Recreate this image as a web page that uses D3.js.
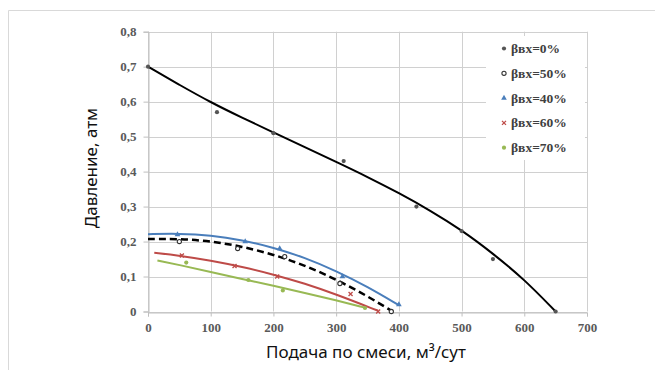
<!DOCTYPE html>
<html><head><meta charset="utf-8">
<script src="https://cdn.jsdelivr.net/npm/d3@7"></script>
<style>body{margin:0;background:#fff}</style>
</head><body>
<svg id="c" width="663" height="370"></svg>
<script>
// ---- data ----
const xTicks = [0,100,200,300,400,500,600,700];
const yTicks = [0,0.1,0.2,0.3,0.4,0.5,0.6,0.7,0.8];
const yTickLabels = ["0","0,1","0,2","0,3","0,4","0,5","0,6","0,7","0,8"];

const s0x = [0,110,200,312,428,500,550,650];
const s0y = [0.70,0.57,0.51,0.43,0.30,0.23,0.15,0.0];
const t0x = [0,50,100,150,200,250,300,350,400,450,500,550,600,650];
const t0y = [0.700,0.648,0.598,0.554,0.512,0.470,0.428,0.385,0.339,0.289,0.233,0.166,0.092,0.0];

const s50x = [50,143,218,306,388];
const s50y = [0.20,0.18,0.157,0.08,0.0];
const t50x = [0,50,100,150,200,250,300,350,390];
const t50y = [0.207,0.208,0.201,0.186,0.163,0.132,0.092,0.044,0.0];

const s40x = [47,155,210,310,400];
const s40y = [0.22,0.20,0.18,0.10,0.02];
const t40x = [0,50,100,150,200,250,300,350,400];
const t40y = [0.221,0.223,0.218,0.204,0.183,0.154,0.116,0.071,0.018];

const s60x = [54,138,206,323,367];
const s60y = [0.16,0.13,0.10,0.05,0.0];
const t60x = [10,50,100,150,200,250,300,367];
const t60y = [0.168,0.160,0.146,0.128,0.106,0.080,0.049,0.002];

const s70x = [61,160,215,346];
const s70y = [0.14,0.09,0.06,0.01];
const t70x = [15,50,100,150,200,250,300,346];
const t70y = [0.146,0.133,0.113,0.093,0.074,0.053,0.032,0.011];

const legendLabels = ["βвх=0%","βвх=50%","βвх=40%","βвх=60%","βвх=70%"];

// ---- drawing ----
const svg = d3.select("#c");
const x = d3.scaleLinear().domain([0,700]).range([148,587]);
const y = d3.scaleLinear().domain([0,0.8]).range([311.5,31.7]);
const SERIF = "Liberation Serif";

// outer frame
svg.append("path").attr("d","M8.5,370 V10.5 H655").attr("fill","none").attr("stroke","#d9d9d9").attr("stroke-width",1);

// grid
const g = svg.append("g");
g.selectAll("line.vx").data(xTicks).join("line")
  .attr("x1",d=>Math.round(x(d))+0.5).attr("x2",d=>Math.round(x(d))+0.5)
  .attr("y1",y(0.8)).attr("y2",y(0)).attr("stroke","#d0d0d0");
g.selectAll("line.hy").data(yTicks).join("line")
  .attr("y1",d=>Math.round(y(d))+0.5).attr("y2",d=>Math.round(y(d))+0.5)
  .attr("x1",x(0)).attr("x2",x(700)).attr("stroke","#d0d0d0");

// axes
const xAxis = d3.axisBottom(x).tickValues(xTicks).tickSize(4).tickPadding(6).tickFormat(d3.format("d"));
const ax = svg.append("g").attr("transform",`translate(0,${Math.round(y(0))+0.5})`).call(xAxis);
ax.attr("font-family",SERIF).attr("font-size",13);
ax.select(".domain").attr("stroke","#bfbfbf");
ax.selectAll(".tick line").attr("stroke","#bfbfbf");
ax.selectAll("text").attr("font-family",SERIF).attr("font-weight","bold").attr("font-size",13).attr("fill","#595959");

const yAxis = d3.axisLeft(y).tickValues(yTicks).tickSize(5).tickPadding(7).tickFormat((d,i)=>yTickLabels[i]);
const ay = svg.append("g").attr("transform",`translate(${Math.round(x(0))+0.5},0)`).call(yAxis);
ay.attr("font-family",SERIF).attr("font-size",13);
ay.select(".domain").attr("stroke","#bfbfbf");
ay.selectAll(".tick line").attr("stroke","#bfbfbf");
ay.selectAll("text").attr("font-family",SERIF).attr("font-weight","bold").attr("font-size",13).attr("fill","#595959");

// legend background
const lg = svg.append("g");
lg.append("rect").attr("x",486).attr("y",36).attr("width",99).attr("height",124).attr("fill","#fff");

// trend lines
const line = d3.line().x(d=>x(d[0])).y(d=>y(d[1])).curve(d3.curveBasis);
const zip = (a,b)=>a.map((v,i)=>[v,b[i]]);
const cols = {b:"#4a7ebb", r:"#be4b48", gr:"#98b954"};

svg.append("path").datum(zip(t70x,t70y)).attr("d",line).attr("fill","none").attr("stroke",cols.gr).attr("stroke-width",2);
svg.append("path").datum(zip(t60x,t60y)).attr("d",line).attr("fill","none").attr("stroke",cols.r).attr("stroke-width",2);
svg.append("path").datum(zip(t40x,t40y)).attr("d",line).attr("fill","none").attr("stroke",cols.b).attr("stroke-width",2);
svg.append("path").datum(zip(t50x,t50y)).attr("d",line).attr("fill","none").attr("stroke","#000").attr("stroke-width",2.5).attr("stroke-dasharray","7,4");
svg.append("path").datum(zip(t0x,t0y)).attr("d",line).attr("fill","none").attr("stroke","#000").attr("stroke-width",2);

// markers
function dots(xs,ys,kind,col,gg){
  const pts = zip(xs,ys);
  const sel = gg.selectAll(null).data(pts).join("g").attr("transform",d=>`translate(${x(d[0])},${y(d[1])})`);
  if(kind==="dot") sel.append("circle").attr("r",2.1).attr("fill",col);
  if(kind==="open") sel.append("circle").attr("r",2.1).attr("fill","#fff").attr("stroke","#333").attr("stroke-width",1.1);
  if(kind==="tri") sel.append("path").attr("d",d3.symbol(d3.symbolTriangle,14)).attr("fill",col);
  if(kind==="x") sel.append("path").attr("d","M-2,-2L2,2M-2,2L2,-2").attr("stroke",col).attr("stroke-width",1.3);
}
const mg = svg.append("g");
dots(s70x,s70y,"dot",cols.gr,mg);
dots(s60x,s60y,"x",cols.r,mg);
dots(s40x,s40y,"tri",cols.b,mg);
dots(s50x,s50y,"open",null,mg);
dots(s0x,s0y,"dot","#555",mg);

// legend
const kinds = [["dot","#555"],["open",null],["tri",cols.b],["x",cols.r],["dot",cols.gr]];
legendLabels.forEach((t,i)=>{
  const yy = 48.5 + i*24.8;
  const lgg = lg.append("g");
  dots([0],[0],kinds[i][0],kinds[i][1],lgg.append("g").attr("transform",`translate(${504-x(0)},${yy-y(0)})`));
  lg.append("text").attr("x",511).attr("y",yy+4.5).text(t)
    .attr("font-family",SERIF).attr("font-weight","bold").attr("font-size",13.5).attr("fill","#404040");
});

// titles
svg.append("text").attr("transform","translate(97,168) rotate(-90)").attr("text-anchor","middle")
  .attr("font-family","Noto Sans").attr("font-size",17).attr("fill","#111").text("Давление, атм");
svg.append("text").attr("x",366).attr("y",358).attr("text-anchor","middle")
  .attr("font-family","Noto Sans").attr("font-size",17).attr("fill","#111").text("Подача по смеси, м³/сут");
</script>
</body></html>
